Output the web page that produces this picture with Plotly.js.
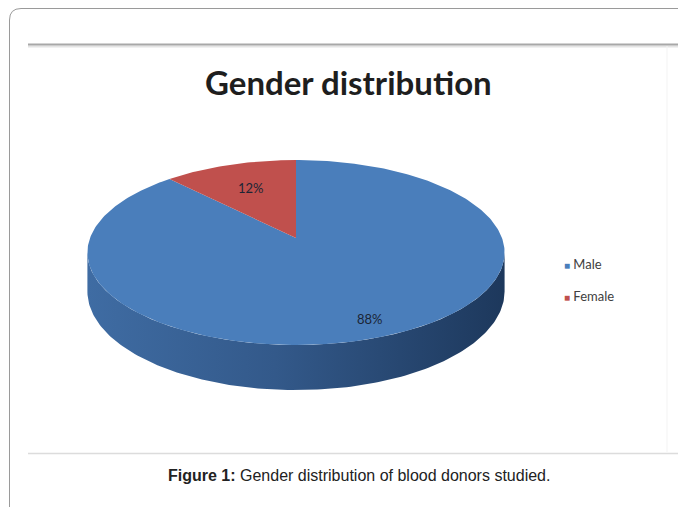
<!DOCTYPE html>
<html>
<head>
<meta charset="utf-8">
<script src="https://cdn.plot.ly/plotly-3.0.1.min.js"></script>
<style>
html,body{margin:0;padding:0;background:#fff;}
#chart{width:678px;height:507px;}
</style>
</head>
<body>
<div id="chart"></div>
<script>
// ---- data ----
const categories = ['Male', 'Female'];
const values = [88, 12];
const labels = ['88%', '12%'];
const chartTitle = 'Gender distribution';
const caption = '<b>Figure 1:</b> Gender distribution of blood donors studied.';

// ---- styling / geometry ----
const topColors = ['#4A7EBB', '#C0504D'];
const sideScales = [
  [[0, '#3F6CA3'], [0.45, '#33598A'], [1, '#1D385C']],
  [[0, '#A6403D'], [1, '#7A2D2B']]
];
const legendColors = ['#4A7EBB', '#C0504D'];
const labelRadius = [0.85, 0.65];
// perspective projection of a flat disc: centre, half width, half height, perspective, thickness
const cx = 296, cy = 238, A = 206, B = 90.2, K = 0.157, D = 38;

function proj(tDeg, r, down) {
  const t = tDeg * Math.PI / 180;
  const X = r * Math.cos(t), Y = r * Math.sin(t);
  const w = 1 + K * Y;
  return [cx + A * X / w, cy - B * Y / w + (down ? D / w : 0)];
}
function arc(a, b, down) {
  const xs = [], ys = [];
  const n = Math.max(2, Math.ceil(Math.abs(b - a)));
  for (let i = 0; i <= n; i++) {
    const p = proj(a + (b - a) * i / n, 1, down);
    xs.push(p[0]); ys.push(p[1]);
  }
  return [xs, ys];
}

const silh = Math.asin(K) * 180 / Math.PI;
const frontLo = -180 + silh, frontHi = -silh;

const total = values.reduce((s, v) => s + v, 0);
const traces = [];
const topTraces = [];
const annotations = [];
let cum = 0;
values.forEach((v, i) => {
  const a0 = 90 - cum / total * 360;
  const a1 = 90 - (cum + v) / total * 360;
  cum += v;
  // visible front side
  [-360, 0, 360].forEach(sh => {
    const lo = frontLo + sh, hi = frontHi + sh;
    const s = Math.max(lo, a1), e = Math.min(hi, a0);
    if (e > s) {
      const top = arc(s, e, false), bot = arc(e, s, true);
      traces.push({
        type: 'scatter', mode: 'lines', fill: 'toself',
        x: top[0].concat(bot[0]), y: top[1].concat(bot[1]),
        line: {width: 0, color: 'rgba(0,0,0,0)'},
        fillgradient: {type: 'horizontal', colorscale: sideScales[i]},
        hoverinfo: 'skip', showlegend: false
      });
    }
  });
  // top face
  const ar = arc(a0, a1, false);
  topTraces.push({
    type: 'scatter', mode: 'lines', fill: 'toself',
    x: [cx].concat(ar[0], [cx]), y: [cy].concat(ar[1], [cy]),
    line: {width: 0, color: 'rgba(0,0,0,0)'},
    fillcolor: topColors[i],
    name: categories[i], hoverinfo: 'skip', showlegend: false
  });
  // data label
  const lp = proj((a0 + a1) / 2, labelRadius[i], false);
  annotations.push({
    x: lp[0], y: lp[1], xref: 'x', yref: 'y', text: labels[i], showarrow: false,
    font: {family: 'Lato, Carlito, sans-serif', size: 13, color: '#1b2535'}
  });
});

// legend (manual, Excel-like)
categories.forEach((c, i) => {
  annotations.push({
    x: 562, y: 264 + i * 32, xref: 'x', yref: 'y', xanchor: 'left',
    text: '<span style="color:' + legendColors[i] + ';font-size:10px">■</span> ' + c,
    showarrow: false,
    font: {family: 'Lato, Carlito, sans-serif', size: 13, color: '#404040'}
  });
});

annotations.push({
  x: 348, y: 82, xref: 'x', yref: 'y', text: '<b>' + chartTitle + '</b>',
  showarrow: false, font: {family: 'Lato, Carlito, sans-serif', size: 33, color: '#1e1e1e'}
});
annotations.push({
  x: 359, y: 475, xref: 'x', yref: 'y', text: caption, showarrow: false,
  font: {family: 'Liberation Sans, Arial, sans-serif', size: 16, color: '#222'}
});

const shapes = [
  {type: 'path', path: 'M 9.5,507 L 9.5,20 Q 9.5,8.5 21,8.5 L 678,8.5', line: {color: '#9a9a9a', width: 1}, layer: 'below'},
  {type: 'line', x0: 28, x1: 678, y0: 46.5, y1: 46.5, line: {color: '#e4e4e4', width: 2}, layer: 'below'},
  {type: 'line', x0: 28, x1: 678, y0: 44.5, y1: 44.5, line: {color: '#a8a8a8', width: 2}, layer: 'below'},
  {type: 'line', x0: 28, x1: 678, y0: 453.5, y1: 453.5, line: {color: '#dcdcdc', width: 1.5}, layer: 'below'},
  {type: 'line', x0: 667, x1: 667, y0: 46, y1: 452, line: {color: '#f3f3f3', width: 1}, layer: 'below'}
];

const layout = {
  width: 678, height: 507,
  margin: {l: 0, r: 0, t: 0, b: 0},
  paper_bgcolor: '#fff', plot_bgcolor: '#fff',
  xaxis: {range: [0, 678], visible: false, fixedrange: true},
  yaxis: {range: [507, 0], visible: false, fixedrange: true},
  showlegend: false,
  annotations: annotations,
  shapes: shapes
};

Plotly.newPlot('chart', traces.concat(topTraces), layout, {displayModeBar: false, staticPlot: true});
</script>
</body>
</html>
